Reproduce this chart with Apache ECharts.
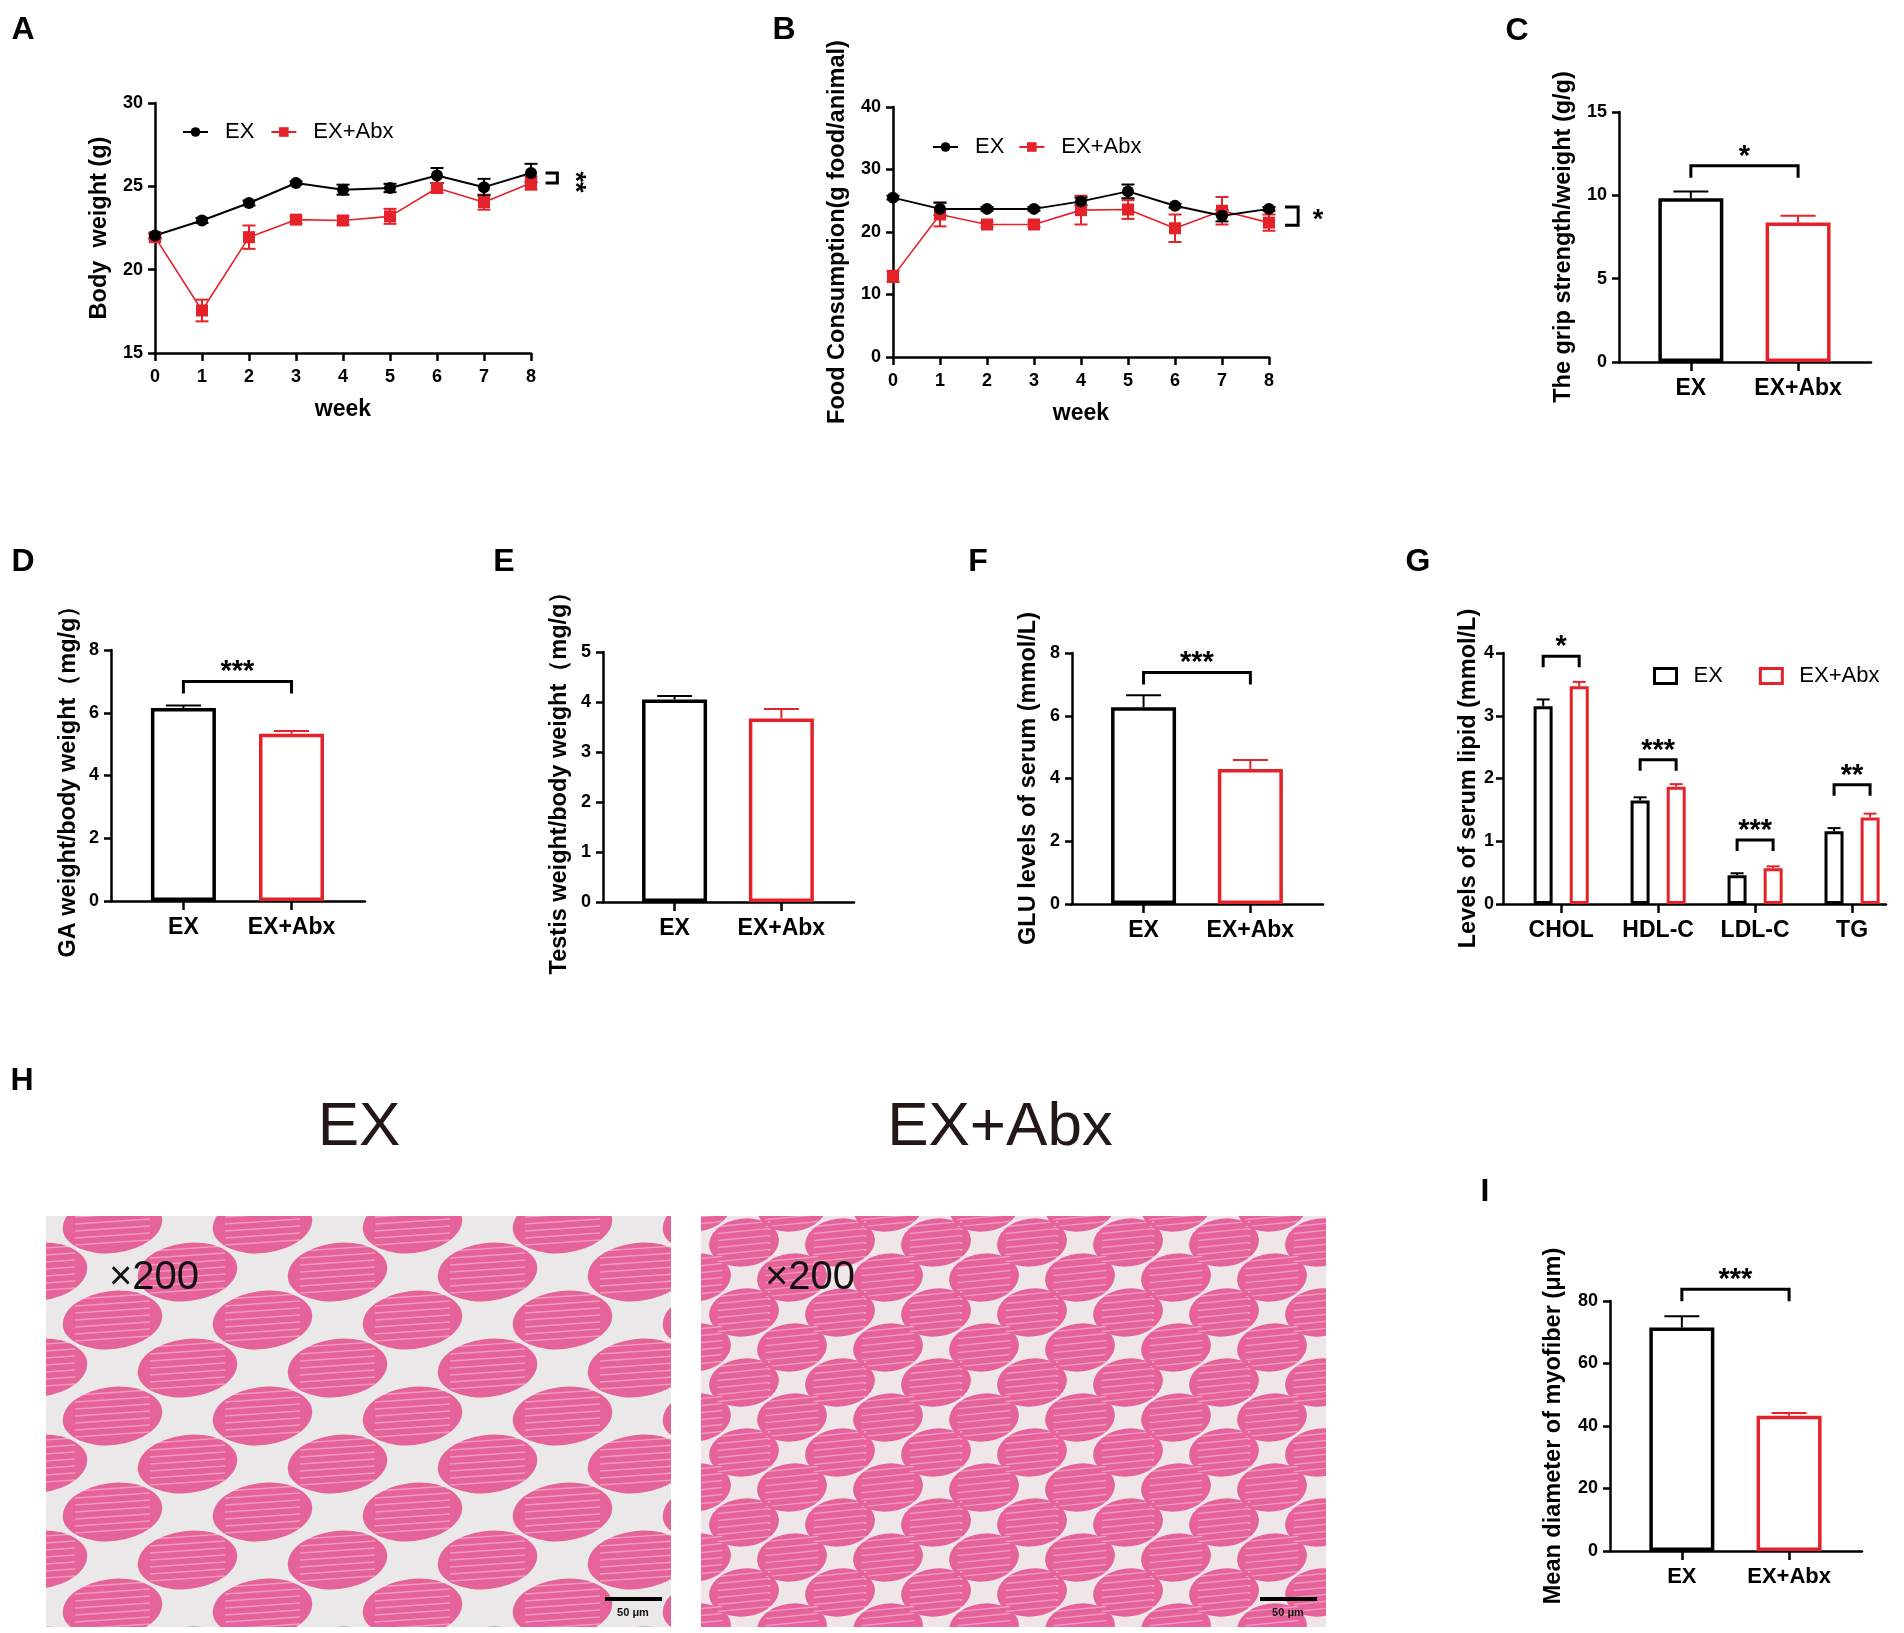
<!DOCTYPE html>
<html>
<head>
    <meta charset="utf-8">
    <title>EX vs EX+Abx</title>
    <script src="https://cdn.jsdelivr.net/npm/echarts@6/dist/echarts.min.js"></script>
</head>
<body style="margin:0;background-color:#fff">
<div id="main" style="width:1904px;height:1633px;"></div>
<script type="text/javascript">
    // ---- data ----
    var weeks = [0, 1, 2, 3, 4, 5, 6, 7, 8];
    var groups = ['EX', 'EX+Abx'];

    // A - body weight (g)
    var bodyEx = [22.05, 22.95, 24.0, 25.2, 24.8, 24.9, 25.65, 24.95, 25.8];
    var bodyExSem = [0.15, 0.15, 0.15, 0.1, 0.3, 0.25, 0.45, 0.5, 0.55];
    var bodyAbx = [21.95, 17.55, 21.95, 23.0, 22.95, 23.2, 24.9, 24.05, 25.2];
    var bodyAbxSem = [0.15, 0.65, 0.7, 0.2, 0.25, 0.45, 0.3, 0.45, 0.4];

    // B - food consumption (g food/animal)
    var foodEx = [25.5, 23.7, 23.7, 23.7, 24.9, 26.5, 24.2, 22.6, 23.7];
    var foodExSem = [0.3, 1.0, 0.3, 0.3, 0.6, 1.1, 0.3, 0.9, 0.3];
    var foodAbx = [12.9, 22.8, 21.2, 21.2, 23.5, 23.6, 20.6, 23.4, 21.5];
    var foodAbxSem = [0.9, 1.9, 0.4, 0.4, 2.3, 1.5, 2.2, 2.2, 1.3];

    // C - grip strength / weight (g/g)
    var gripMean = [9.83, 8.37];
    var gripSem = [0.4, 0.4];
    // D - GA weight / body weight (mg/g)
    var gaMean = [6.15, 5.33];
    var gaSem = [0.08, 0.09];
    // E - testis weight / body weight (mg/g)
    var testisMean = [4.05, 3.67];
    var testisSem = [0.07, 0.19];
    // F - serum GLU (mmol/L)
    var gluMean = [6.27, 4.30];
    var gluSem = [0.38, 0.29];
    // G - serum lipid (mmol/L)
    var lipidNames = ['CHOL', 'HDL-C', 'LDL-C', 'TG'];
    var lipidEx = [3.15, 1.65, 0.46, 1.16];
    var lipidExSem = [0.11, 0.05, 0.03, 0.05];
    var lipidAbx = [3.47, 1.87, 0.57, 1.38];
    var lipidAbxSem = [0.07, 0.04, 0.03, 0.06];
    var lipidSig = ['*', '***', '***', '**'];
    var lipidSigY = [3.95, 2.30, 1.02, 1.90];
    // I - mean diameter of myofiber (um)
    var fiberMean = [71.5, 43.3];
    var fiberSem = [3.6, 0.9];

    // ---- styles ----
    var font = "'Liberation Sans',Arial,Helvetica,sans-serif";
    var black = '#000';
    var red = '#e3222a';
    var axisLine = {show: true, onZero: false, lineStyle: {color: '#000', width: 2.5}};
    var lipidPos = [1, 2, 3, 4];

    function pair(xs, ys) {
        return xs.map(function (x, i) { return [x, ys[i]]; });
    }
    function triple(xs, ys, es) {
        return xs.map(function (x, i) { return [x, ys[i], es[i]]; });
    }

    function yAx(g, min, max, step, name, gap, size, margin) {
        return {
            type: 'value', gridIndex: g, min: min, max: max, interval: step,
            name: name, nameLocation: 'middle', nameGap: gap,
            nameTextStyle: {fontFamily: font, fontWeight: 'bold', fontSize: 23.5, color: '#000'},
            axisLine: axisLine,
            axisTick: {show: true, length: 7, lineStyle: {color: '#000', width: 2.5}},
            axisLabel: {margin: margin || 12, fontFamily: font, fontWeight: 'bold', fontSize: size, color: '#000'},
            splitLine: {show: false}
        };
    }
    function weekAx(g) {
        return {
            type: 'value', gridIndex: g, min: 0, max: 8, interval: 1,
            name: 'week', nameLocation: 'middle', nameGap: 45,
            nameTextStyle: {fontFamily: font, fontWeight: 'bold', fontSize: 23, color: '#000'},
            axisLine: axisLine,
            axisTick: {show: true, length: 8, lineStyle: {color: '#000', width: 2.5}},
            axisLabel: {margin: 15, fontFamily: font, fontWeight: 'bold', fontSize: 18, color: '#000'},
            splitLine: {show: false}
        };
    }
    // groups placed on a value axis so the outer gaps match the original layout
    function groupAx(g, names, min, max, size) {
        var pos = names.map(function (n, i) { return i + 1; });
        return {
            type: 'value', gridIndex: g, min: min, max: max,
            axisLine: axisLine,
            axisTick: {show: true, length: 9, customValues: pos, lineStyle: {color: '#000', width: 2.5}},
            axisLabel: {
                show: true, customValues: pos, margin: 15,
                formatter: function (v) { return names[Math.round(v) - 1]; },
                fontFamily: font, fontWeight: 'bold', fontSize: size, color: '#000'
            },
            splitLine: {show: false}
        };
    }

    // vertical error bar, both directions for line charts, upward only for bars
    function errorBar(color, capW, both, dx) {
        return function (params, api) {
            var x = api.value(0), m = api.value(1), e = api.value(2);
            var top = api.coord([x, m + e]);
            var bot = api.coord([x, both ? m - e : m]);
            var c = Array.isArray(color) ? color[params.dataIndex] : color;
            var cx = top[0] + (dx || 0);
            var st = {stroke: c, lineWidth: 2};
            var kids = [
                {type: 'line', shape: {x1: cx, y1: top[1], x2: cx, y2: bot[1]}, style: st},
                {type: 'line', shape: {x1: cx - capW / 2, y1: top[1], x2: cx + capW / 2, y2: top[1]}, style: st}
            ];
            if (both) {
                kids.push({type: 'line', shape: {x1: cx - capW / 2, y1: bot[1], x2: cx + capW / 2, y2: bot[1]}, style: st});
            }
            return {type: 'group', children: kids};
        };
    }

    // significance bracket over two bars
    function hBracket(texts, dxa, dxb, leg) {
        return function (params, api) {
            var a = api.coord([api.value(0), api.value(2)]);
            var b = api.coord([api.value(1), api.value(2)]);
            var x1 = a[0] + (dxa || 0), x2 = b[0] + (dxb || 0), y = a[1];
            var l = leg || 12;
            return {
                type: 'group', children: [
                    {type: 'polyline', shape: {points: [[x1, y + l], [x1, y], [x2, y], [x2, y + l]]},
                        style: {stroke: '#000', lineWidth: 3, fill: 'none'}},
                    {type: 'text', style: {text: texts[params.dataIndex], x: (x1 + x2) / 2, y: y - 9,
                        align: 'center', verticalAlign: 'middle', font: 'bold 29px ' + font, fill: '#000'}}
                ]
            };
        };
    }

    // side bracket ']' joining the last points of two lines
    function vBracket(text, rotate) {
        return function (params, api) {
            var a = api.coord([api.value(0), api.value(2)]);
            var b = api.coord([api.value(1), api.value(3)]);
            var t = api.coord([api.value(4), (api.value(2) + api.value(3)) / 2]);
            return {
                type: 'group', children: [
                    {type: 'polyline', shape: {points: [[a[0], a[1]], [b[0], a[1]], [b[0], b[1]], [a[0], b[1]]]},
                        style: {stroke: '#000', lineWidth: 3, fill: 'none'}},
                    {type: 'text', x: t[0], y: t[1] + 4, rotation: rotate ? -Math.PI / 2 : 0,
                        style: {text: text, x: 0, y: 0, align: 'center', verticalAlign: 'middle',
                            font: 'bold 27px ' + font, fill: '#000'}}
                ]
            };
        };
    }

    function lineSeries(g, name, ys, color, symbol) {
        return {
            type: 'line', name: name, xAxisIndex: g, yAxisIndex: g,
            data: pair(weeks, ys), symbol: symbol, symbolSize: 12,
            lineStyle: {color: color, width: name === 'EX' ? 2 : 1.6},
            itemStyle: {color: color}, z: name === 'EX' ? 4 : 3
        };
    }

    function barPanel(g, means, sems, sigText, sigY) {
        var out = [
            {
                type: 'bar', name: 'bars' + g, xAxisIndex: g, yAxisIndex: g, barWidth: 65,
                data: means.map(function (m, k) {
                    return {value: [k + 1, m], itemStyle: {color: '#fff', borderColor: k ? red : black, borderWidth: 3.5}};
                })
            },
            {
                type: 'custom', name: 'err' + g, xAxisIndex: g, yAxisIndex: g,
                renderItem: errorBar([black, red], 35, false),
                data: triple([1, 2], means, sems), z: 3
            }
        ];
        if (sigText) {
            out.push({
                type: 'custom', name: 'sig' + g, xAxisIndex: g, yAxisIndex: g,
                renderItem: hBracket([sigText]), data: [[1, 2, sigY]], z: 3
            });
        }
        return out;
    }

    // ---- texture for the H&E photos (panel H) ----
    function tissueTile(w, h, rx, ry, gap) {
        var c = document.createElement('canvas');
        c.width = w; c.height = h;
        var ctx = c.getContext('2d');
        ctx.fillStyle = gap;
        ctx.fillRect(0, 0, w, h);
        var centers = [[w / 4, h / 4], [3 * w / 4, 3 * h / 4], [3 * w / 4, -h / 4], [-w / 4, 3 * h / 4],
            [5 * w / 4, h / 4], [w / 4, 5 * h / 4], [-w / 4, -h / 4], [5 * w / 4, 5 * h / 4]];
        centers.forEach(function (p) {
            ctx.beginPath();
            ctx.ellipse(p[0], p[1], rx, ry, -0.12, 0, Math.PI * 2);
            ctx.fillStyle = '#e5629a';
            ctx.fill();
            ctx.strokeStyle = 'rgba(255,225,238,0.45)';
            ctx.lineWidth = 1.3;
            for (var s = -ry + 6; s < ry - 4; s += 7) {
                ctx.beginPath();
                ctx.moveTo(p[0] - rx * 0.75, p[1] + s + 2);
                ctx.lineTo(p[0] + rx * 0.75, p[1] + s - 3);
                ctx.stroke();
            }
        });
        return c;
    }
    var tileEx = tissueTile(150, 96, 50, 29, '#eae8e9');
    var tileAbx = tissueTile(96, 70, 35, 24, '#efe6ea');

    var myChart = echarts.init(document.getElementById('main'));

    var series = [];
    // A
    series.push({type: 'custom', name: 'errA1', xAxisIndex: 0, yAxisIndex: 0, renderItem: errorBar(red, 13, true), data: triple(weeks, bodyAbx, bodyAbxSem), z: 2});
    series.push({type: 'custom', name: 'errA0', xAxisIndex: 0, yAxisIndex: 0, renderItem: errorBar(black, 13, true), data: triple(weeks, bodyEx, bodyExSem), z: 2});
    series.push(lineSeries(0, 'EX+Abx', bodyAbx, red, 'rect'));
    series.push(lineSeries(0, 'EX', bodyEx, black, 'circle'));
    series.push({type: 'custom', name: 'sigA', xAxisIndex: 0, yAxisIndex: 0, renderItem: vBracket('**', true),
        data: [[8.31, 8.56, bodyEx[8], bodyAbx[8], 8.93]], z: 3});
    // B
    series.push({type: 'custom', name: 'errB1', xAxisIndex: 1, yAxisIndex: 1, renderItem: errorBar(red, 13, true), data: triple(weeks, foodAbx, foodAbxSem), z: 2});
    series.push({type: 'custom', name: 'errB0', xAxisIndex: 1, yAxisIndex: 1, renderItem: errorBar(black, 13, true), data: triple(weeks, foodEx, foodExSem), z: 2});
    series.push(lineSeries(1, 'EX+Abx', foodAbx, red, 'rect'));
    series.push(lineSeries(1, 'EX', foodEx, black, 'circle'));
    series.push({type: 'custom', name: 'sigB', xAxisIndex: 1, yAxisIndex: 1, renderItem: vBracket('*', false),
        data: [[8.34, 8.62, 24.0, 21.1, 9.04]], z: 3});
    // C, D, E, F
    series = series.concat(barPanel(2, gripMean, gripSem, '*', 11.78));
    series = series.concat(barPanel(3, gaMean, gaSem, '***', 7.0));
    series = series.concat(barPanel(4, testisMean, testisSem, null, 0));
    series = series.concat(barPanel(5, gluMean, gluSem, '***', 7.38));
    // G
    series.push({type: 'bar', name: 'EX', xAxisIndex: 6, yAxisIndex: 6, barWidth: 19, barGap: '90%',
        data: pair(lipidPos, lipidEx), itemStyle: {color: '#fff', borderColor: black, borderWidth: 3}});
    series.push({type: 'bar', name: 'EX+Abx', xAxisIndex: 6, yAxisIndex: 6, barWidth: 19, barGap: '90%',
        data: pair(lipidPos, lipidAbx), itemStyle: {color: '#fff', borderColor: red, borderWidth: 3}});
    series.push({type: 'custom', name: 'errG0', xAxisIndex: 6, yAxisIndex: 6, renderItem: errorBar(black, 13, false, -18),
        data: triple(lipidPos, lipidEx, lipidExSem), z: 3});
    series.push({type: 'custom', name: 'errG1', xAxisIndex: 6, yAxisIndex: 6, renderItem: errorBar(red, 13, false, 18),
        data: triple(lipidPos, lipidAbx, lipidAbxSem), z: 3});
    series.push({type: 'custom', name: 'sigG', xAxisIndex: 6, yAxisIndex: 6, renderItem: hBracket(lipidSig, -18, 18, 11),
        data: lipidSigY.map(function (y, i) { return [lipidPos[i], lipidPos[i], y]; }), z: 3});
    // I
    series = series.concat(barPanel(7, fiberMean, fiberSem, '***', 83.8));

    var letters = [['A', 23, 30], ['B', 784, 30], ['C', 1517, 31], ['D', 23, 562], ['E', 504, 562],
        ['F', 978, 562], ['G', 1418, 562], ['H', 22, 1081], ['I', 1485, 1192]];
    var graphic = letters.map(function (l) {
        return {type: 'text', x: l[1], y: l[2], style: {text: l[0], align: 'center', verticalAlign: 'middle',
            font: 'bold 32px ' + font, fill: '#000'}};
    });
    graphic = graphic.concat([
        {type: 'text', x: 359, y: 1128, style: {text: 'EX', align: 'center', verticalAlign: 'middle', font: '62px ' + font, fill: '#231815'}},
        {type: 'text', x: 1000, y: 1128, style: {text: 'EX+Abx', align: 'center', verticalAlign: 'middle', font: '62px ' + font, fill: '#231815'}},
        {type: 'rect', shape: {x: 46, y: 1216, width: 625, height: 411}, style: {fill: {image: tileEx, repeat: 'repeat'}}},
        {type: 'rect', shape: {x: 701, y: 1216, width: 625, height: 411}, style: {fill: {image: tileAbx, repeat: 'repeat'}}},
        {type: 'text', x: 154, y: 1278, style: {text: '×200', align: 'center', verticalAlign: 'middle', font: '40px ' + font, fill: '#111'}},
        {type: 'text', x: 810, y: 1278, style: {text: '×200', align: 'center', verticalAlign: 'middle', font: '40px ' + font, fill: '#111'}},
        {type: 'rect', shape: {x: 605, y: 1597, width: 57, height: 4}, style: {fill: '#000'}},
        {type: 'rect', shape: {x: 1260, y: 1597, width: 57, height: 4}, style: {fill: '#000'}},
        {type: 'text', x: 633, y: 1613, style: {text: '50 μm', align: 'center', verticalAlign: 'middle', font: 'bold 11px ' + font, fill: '#111'}},
        {type: 'text', x: 1288, y: 1613, style: {text: '50 μm', align: 'center', verticalAlign: 'middle', font: 'bold 11px ' + font, fill: '#111'}}
    ]);

    myChart.setOption({
        backgroundColor: '#fff',
        animation: false,
        grid: [
            {left: 155, top: 103, width: 376, height: 250},
            {left: 893, top: 107, width: 376, height: 250},
            {left: 1619, top: 112, width: 252, height: 250},
            {left: 111, top: 650, width: 254, height: 251},
            {left: 603, top: 652, width: 251, height: 250},
            {left: 1072, top: 653, width: 251, height: 251},
            {left: 1503, top: 653, width: 383, height: 251},
            {left: 1610, top: 1301, width: 252, height: 250}
        ],
        xAxis: [
            weekAx(0),
            weekAx(1),
            groupAx(2, groups, 0.33, 2.68, 23),
            groupAx(3, groups, 0.33, 2.68, 23),
            groupAx(4, groups, 0.33, 2.68, 23),
            groupAx(5, groups, 0.33, 2.68, 23),
            groupAx(6, lipidNames, 0.4, 4.35, 23),
            groupAx(7, groups, 0.33, 2.68, 22)
        ],
        yAxis: [
            yAx(0, 15, 30, 5, 'Body  weight (g)', 43, 18),
            yAx(1, 0, 40, 10, 'Food Consumption(g food/animal)', 43, 18),
            yAx(2, 0, 15, 5, 'The grip strength/weight (g/g)', 43, 18),
            yAx(3, 0, 8, 2, 'GA weight/body weight（mg/g）', 30, 18),
            yAx(4, 0, 5, 1, 'Testis weight/body weight（mg/g）', 31, 18),
            yAx(5, 0, 8, 2, 'GLU levels of serum (mmol/L)', 31, 18),
            yAx(6, 0, 4, 1, 'Levels of serum lipid (mmol/L)', 20, 18, 9),
            yAx(7, 0, 80, 20, 'Mean diameter of myofiber (μm)', 44, 18)
        ],
        legend: [
            {
                data: ['EX', 'EX+Abx'], left: 177, top: 116, itemWidth: 25, itemHeight: 12, itemGap: 16,
                textStyle: {fontFamily: font, fontSize: 22, color: '#000', padding: [0, 0, 0, 12]}
            },
            {
                data: ['EX', 'EX+Abx'], left: 927, top: 131, itemWidth: 25, itemHeight: 12, itemGap: 14,
                textStyle: {fontFamily: font, fontSize: 22, color: '#000', padding: [0, 0, 0, 12]}
            },
            {
                data: [
                    {name: 'EX', icon: 'rect', itemStyle: {color: '#fff', borderColor: black, borderWidth: 3}},
                    {name: 'EX+Abx', icon: 'rect', itemStyle: {color: '#fff', borderColor: red, borderWidth: 3}}
                ],
                left: 1648, top: 660, itemWidth: 22, itemHeight: 15, itemGap: 36,
                textStyle: {fontFamily: font, fontSize: 22, color: '#000', padding: [0, 0, 0, 12]}
            }
        ],
        graphic: graphic,
        series: series
    });
</script>
</body>
</html>
